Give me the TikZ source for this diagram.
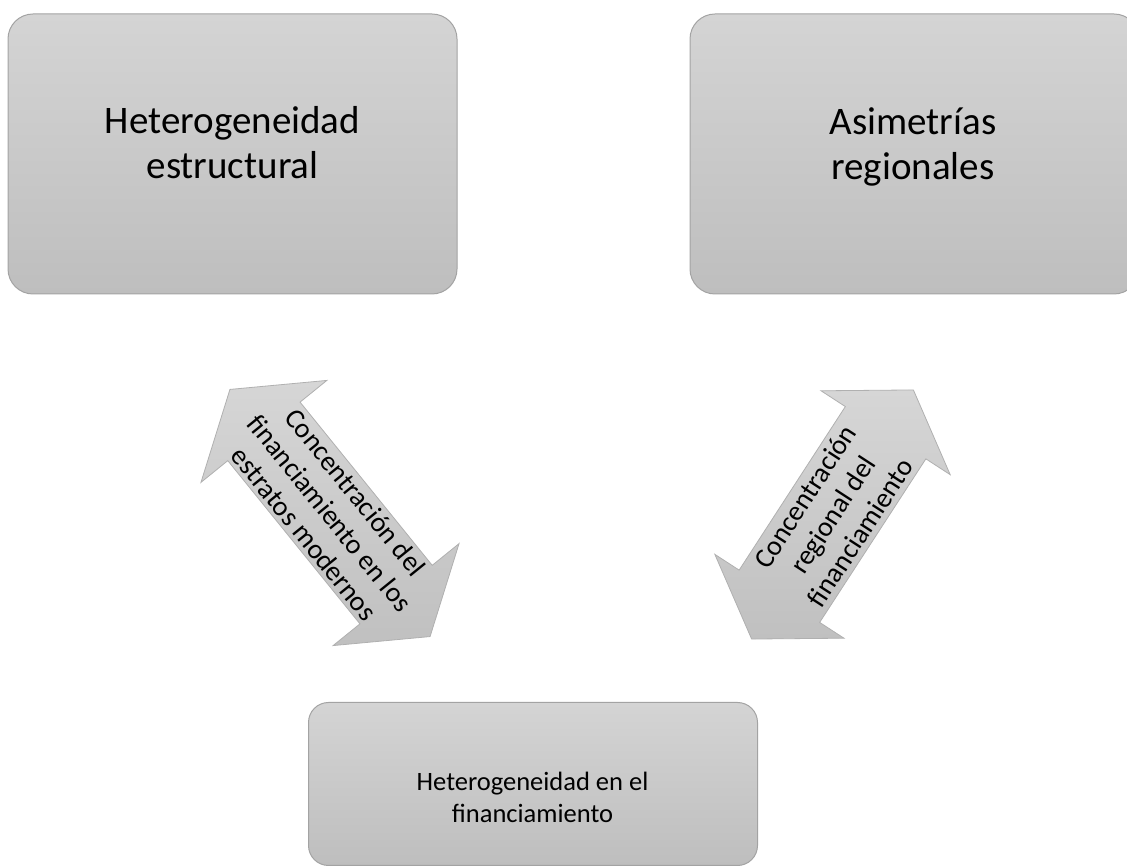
\documentclass[tikz,border=0pt]{standalone}
\usepackage{fontspec}
\setmainfont{Carlito}
\definecolor{boxtop}{HTML}{D4D4D4}
\definecolor{boxbot}{HTML}{BEBEBE}
\definecolor{boxline}{HTML}{A3A3A3}
\definecolor{arrtop}{HTML}{D6D6D6}
\definecolor{arrbot}{HTML}{C0C0C0}
\definecolor{arrline}{HTML}{B0B0B0}
\begin{document}
\begin{tikzpicture}[x=1pt,y=1pt,
  bigbox/.style={draw=boxline, line width=1pt, rounded corners=25pt,
    top color=boxtop, bottom color=boxbot,
    minimum width=449pt, minimum height=280pt, inner sep=0pt},
  smallbox/.style={bigbox, rounded corners=20pt, minimum height=163pt},
  bigtext/.style={align=center, inner sep=0pt, font=\fontsize{39}{45}\selectfont},
  smalltext/.style={align=center, inner sep=0pt, font=\fontsize{26.5}{32}\selectfont},
  arrtext/.style={align=center, inner sep=0pt, font=\fontsize{28}{33}\selectfont},
  arrshape/.style={draw=arrline, line width=0.8pt, top color=arrtop, bottom color=arrbot}
]
\useasboundingbox (0,0) rectangle (1127,867);
\clip (0,0) rectangle (1127,867);

% boxes
\node[bigbox] (b1) at (232.5,713) {};
\node[bigtext] (t1) at (232.5,724) {Heterogeneidad\\estructural};
\node[bigbox] (b2) at (914.5,713) {};
\node[bigtext] (t2) at (913,720) {Asimetrías\\regionales};
\node[smallbox] (b3) at (533,83) {};
\node[smalltext] (t3) at (532.5,70) {Heterogeneidad en el\\financiamiento};

% left double arrow
\coordinate (c1) at (330,354);
\begin{scope}[shift={(c1)}, rotate=-51]
  \path[arrshape] (-159,0) -- (-105,81) -- (-105,46.5) -- (105,46.5) -- (105,81)
    -- (159,0) -- (105,-81) -- (105,-46.5) -- (-105,-46.5) -- (-105,-81) -- cycle;
\end{scope}
\node[arrtext, rotate=-51] (a1) at (c1) {Concentración del\\financiamiento en los\\estratos modernos};

% right double arrow
\coordinate (c2) at (832.5,352.5);
\begin{scope}[shift={(c2)}, rotate=57]
  \path[arrshape] (-148.5,0) -- (-97.5,77) -- (-97.5,48) -- (97.5,48) -- (97.5,77)
    -- (148.5,0) -- (97.5,-77) -- (97.5,-48) -- (-97.5,-48) -- (-97.5,-77) -- cycle;
\end{scope}
\node[arrtext, rotate=57] (a2) at (c2) {Concentración\\regional del\\financiamiento};
\end{tikzpicture}
\end{document}
